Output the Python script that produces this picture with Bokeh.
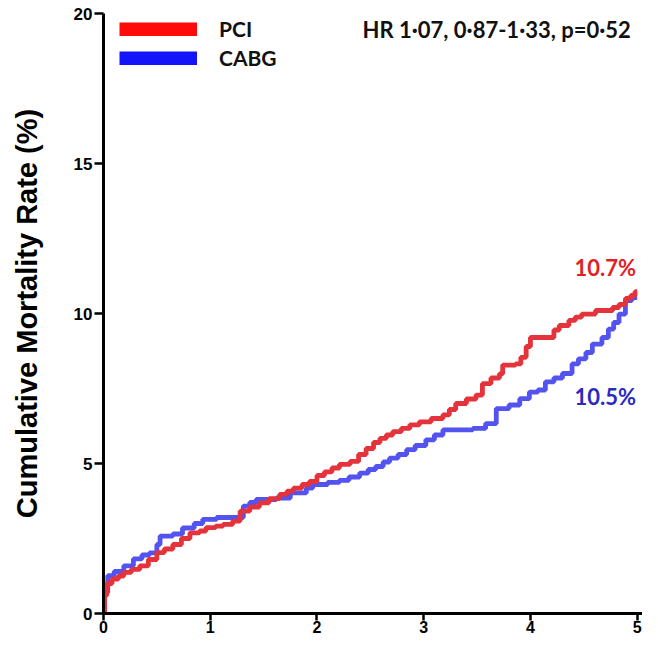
from bokeh.plotting import figure
from bokeh.models import Range1d, FixedTicker, Label, Legend, LegendItem
from bokeh.embed import file_html
from bokeh.resources import INLINE

# ---- data ----
pci_t = [0.00, 0.01, 0.03, 0.08, 0.14, 0.19, 0.26, 0.34, 0.42, 0.50, 0.57, 0.65, 0.73, 0.81,
         0.90, 0.96, 1.05, 1.12, 1.21, 1.28, 1.37, 1.46, 1.55, 1.65, 1.72, 1.78, 1.86, 1.93,
         2.00, 2.07, 2.14, 2.21, 2.31, 2.39, 2.46, 2.53, 2.59, 2.65, 2.71, 2.79, 2.87, 2.96,
         3.07, 3.18, 3.24, 3.30, 3.40, 3.49, 3.55, 3.63, 3.71, 3.74, 3.86, 3.91, 3.96, 4.00,
         4.22, 4.27, 4.36, 4.42, 4.48, 4.61, 4.77, 4.83, 4.89, 4.94, 4.98, 5.00]
pci_v = [0.00, 0.60, 1.00, 1.15, 1.25, 1.37, 1.47, 1.59, 1.80, 2.03, 2.15, 2.30, 2.50, 2.69,
         2.75, 2.86, 2.91, 2.97, 3.08, 3.41, 3.55, 3.69, 3.83, 3.97, 4.08, 4.18, 4.30, 4.40,
         4.60, 4.72, 4.85, 4.97, 5.07, 5.30, 5.50, 5.70, 5.84, 5.95, 6.06, 6.17, 6.29, 6.39,
         6.50, 6.62, 6.80, 7.00, 7.15, 7.28, 7.66, 7.85, 7.99, 8.28, 8.32, 8.54, 8.90, 9.20,
         9.45, 9.60, 9.77, 9.88, 9.98, 10.10, 10.20, 10.30, 10.50, 10.60, 10.73, 10.73]

cabg_t = [0.00, 0.01, 0.04, 0.10, 0.19, 0.28, 0.36, 0.43, 0.50, 0.53, 0.65, 0.74, 0.85, 0.93,
          1.06, 1.31, 1.37, 1.43, 1.62, 1.75, 1.90, 1.96, 2.10, 2.21, 2.30, 2.40, 2.48, 2.55,
          2.62, 2.68, 2.76, 2.84, 2.92, 3.02, 3.10, 3.18, 3.46, 3.58, 3.68, 3.80, 3.90, 3.99,
          4.07, 4.14, 4.22, 4.30, 4.39, 4.45, 4.52, 4.58, 4.67, 4.73, 4.78, 4.83, 4.89, 4.95, 5.00]
cabg_v = [0.00, 0.70, 1.26, 1.40, 1.59, 1.82, 1.95, 2.02, 2.30, 2.58, 2.65, 2.85, 3.00, 3.14,
          3.20, 3.58, 3.70, 3.80, 3.85, 4.02, 4.18, 4.30, 4.37, 4.44, 4.55, 4.68, 4.80, 4.90,
          5.05, 5.18, 5.30, 5.46, 5.60, 5.79, 5.95, 6.12, 6.17, 6.33, 6.83, 6.95, 7.16, 7.38,
          7.45, 7.72, 7.85, 8.00, 8.32, 8.49, 8.70, 8.98, 9.20, 9.48, 9.70, 9.98, 10.43, 10.53, 10.53]

x_ticks = [0, 1, 2, 3, 4, 5]
y_ticks = [0, 5, 10, 15, 20]
series_names = ["PCI", "CABG"]
final_labels = ["10.7%", "10.5%"]
y_title = "Cumulative Mortality Rate (%)"
hr_text = "HR 1\u00b707, 0\u00b787-1\u00b733, p=0\u00b752"
nan = float("nan")

# ---- figure ----
p = figure(width=642, height=638, output_backend="svg", toolbar_location=None,
           x_range=Range1d(0, 5.05), y_range=Range1d(0, 20),
           min_border_left=103, min_border_right=0, min_border_top=13, min_border_bottom=25)
p.outline_line_color = None
p.xgrid.visible = False
p.ygrid.visible = False
p.background_fill_color = "white"
p.border_fill_color = "white"

r_cabg = p.step(cabg_t, cabg_v, mode="after", line_width=4.8, line_color="#5353F0")
r_pci = p.step(pci_t, pci_v, mode="after", line_width=4.8, line_color="#E5333B")

# legend swatches (solid bands), renderers hold no visible data
sw_pci = p.line([nan], [nan], line_width=14, line_color="#FF0A0A", line_cap="butt")
sw_cabg = p.line([nan], [nan], line_width=14, line_color="#1414FA", line_cap="butt")
legend = Legend(items=[LegendItem(label=series_names[0], renderers=[sw_pci]),
                       LegendItem(label=series_names[1], renderers=[sw_cabg])],
                location=(16, 543), orientation="vertical",
                glyph_width=78, glyph_height=14, label_standoff=22, spacing=4,
                padding=0, margin=0, border_line_color=None, background_fill_alpha=0,
                label_text_font="Lato", label_text_font_style="bold",
                label_text_font_size="21px", label_text_color="#111111")
p.add_layout(legend, "center")

# axes
for ax in (p.xaxis[0], p.yaxis[0]):
    ax.axis_line_width = 3
    ax.axis_line_color = "black"
    ax.major_tick_line_width = 2.5
    ax.major_tick_line_color = "black"
    ax.major_tick_in = 0
    ax.minor_tick_in = 0
    ax.minor_tick_out = 0
    ax.major_label_text_font = "Liberation Sans"
    ax.major_label_text_font_style = "bold"
    ax.major_label_text_color = "black"

p.xaxis.ticker = FixedTicker(ticks=x_ticks)
p.yaxis.ticker = FixedTicker(ticks=y_ticks)
p.xaxis.major_tick_out = 7
p.yaxis.major_tick_out = 9
p.xaxis.major_label_text_font_size = "16px"
p.xaxis.major_label_standoff = 0
p.yaxis.major_label_text_font_size = "17px"
p.yaxis.major_label_standoff = 2

p.yaxis.axis_label = y_title
p.yaxis.axis_label_text_font = "Liberation Sans"
p.yaxis.axis_label_text_font_style = "bold"
p.yaxis.axis_label_text_font_size = "29px"
p.yaxis.axis_label_text_color = "black"
p.yaxis.axis_label_standoff = 28

# annotations
p.add_layout(Label(x=4.94, y=19.47, text=hr_text, text_align="right", text_baseline="middle",
                   text_font="Lato", text_font_style="bold", text_font_size="22px",
                   text_color="#111111"))
p.add_layout(Label(x=4.99, y=11.52, text=final_labels[0], text_align="right", text_baseline="middle",
                   text_font="Lato", text_font_style="bold", text_font_size="22px",
                   text_color="#E21E26"))
p.add_layout(Label(x=4.99, y=7.25, text=final_labels[1], text_align="right", text_baseline="middle",
                   text_font="Lato", text_font_style="bold", text_font_size="22px",
                   text_color="#2A2ABE"))

open("out.html", "w").write(file_html(p, INLINE))
